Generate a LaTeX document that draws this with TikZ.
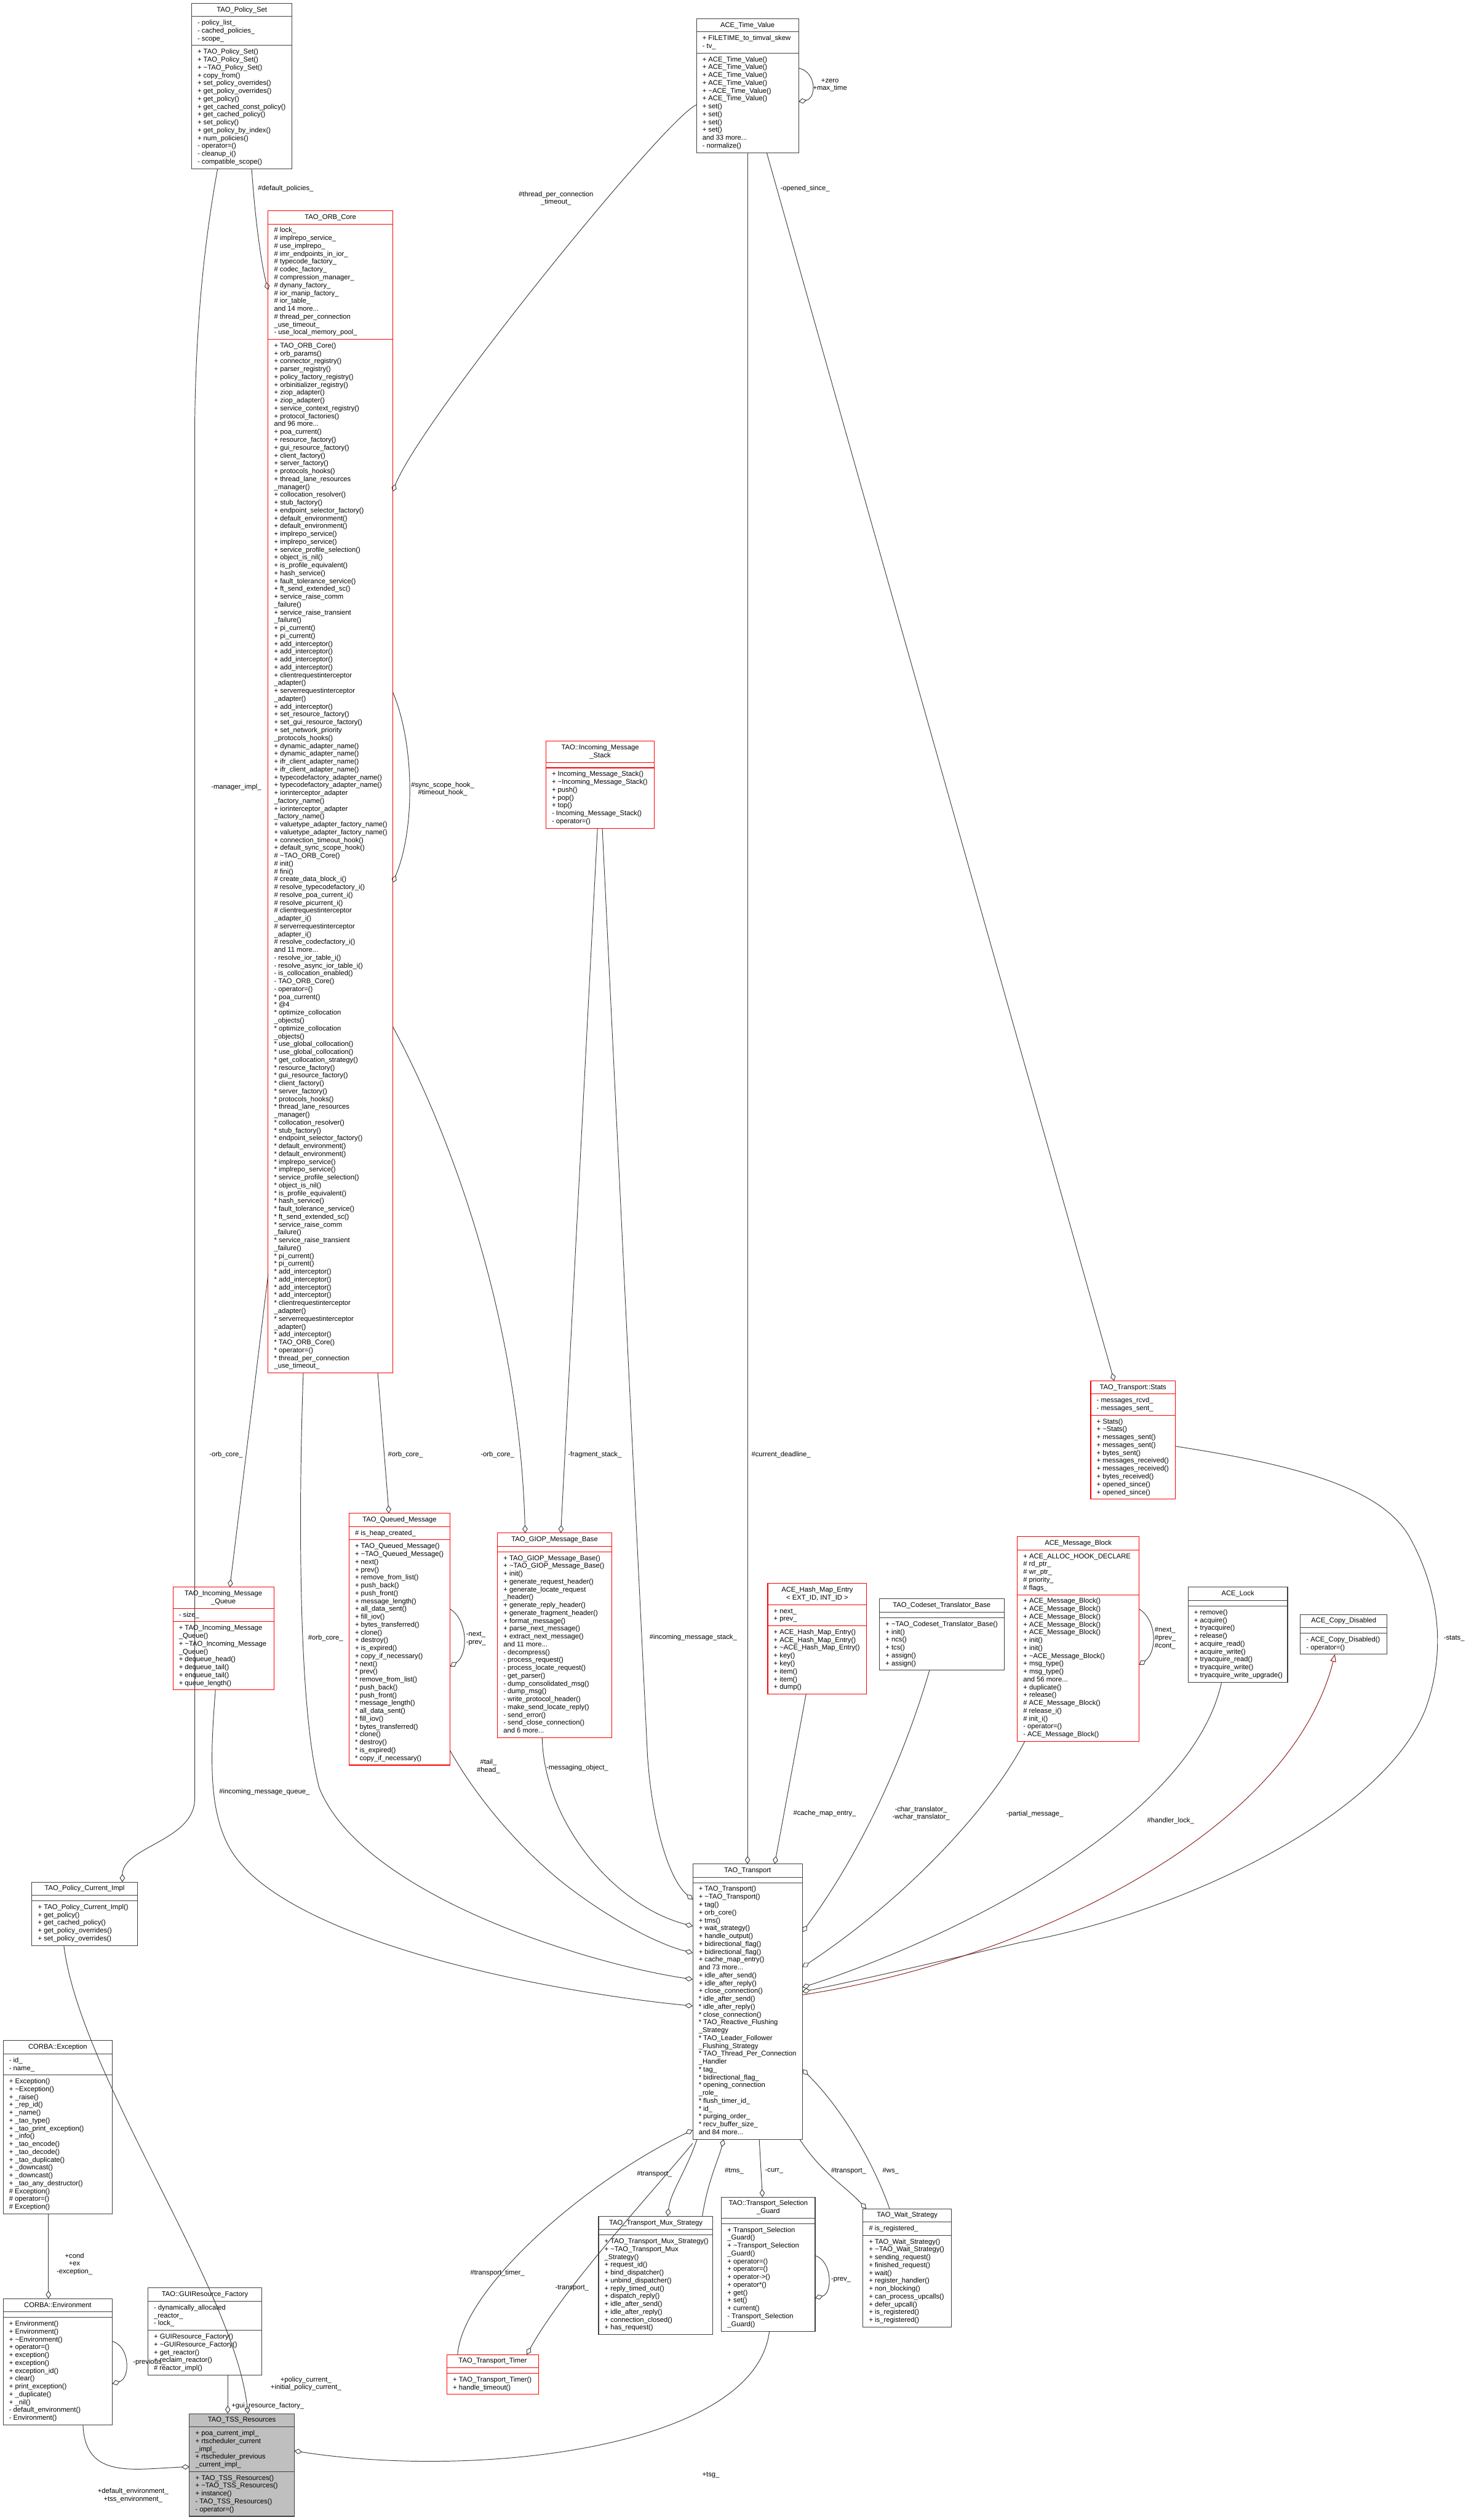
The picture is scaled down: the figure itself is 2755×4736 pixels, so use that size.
\documentclass[tikz,border=0pt]{standalone}
\usepackage{fontspec}
\setmainfont{Liberation Sans}
\usetikzlibrary{arrows.meta}
\definecolor{inhcol}{HTML}{8B1A1A}
\definecolor{edgecol}{HTML}{404040}
\definecolor{boxred}{HTML}{FF0000}
\newcommand\cfont{\fontsize{13}{14.75}\selectfont}
\newsavebox\cbT \newsavebox\cbA \newsavebox\cbM
\newlength\cbhT \newlength\cbhA \newlength\cbhM
\tikzset{
 box/.style={draw=edgecol, line width=1.2pt, inner sep=0pt, outer sep=0pt, fill=white},
 redb/.style={draw=boxred},
 blkb/.style={draw=edgecol},
 grayb/.style={draw=edgecol, fill=black!25},
 sepl/.style={line width=1.2pt},
 edge/.style={draw=edgecol, line width=1.1pt},
 dia/.style={-{Diamond[open,length=15pt,width=10pt]}},
 inh/.style={draw=inhcol, line width=1.1pt, -{Triangle[open,length=14pt,width=11pt]}},
 lbl/.style={font=\cfont, inner sep=0pt, align=center},
 txt/.style={inner sep=0pt, font=\cfont},
}
\newcommand\umlbox[8]{%
  \sbox\cbT{\normalfont\cfont\begin{tabular}[t]{@{}c@{}}#6\end{tabular}}%
  \sbox\cbA{\normalfont\cfont\begin{tabular}[t]{@{}l@{}}#7\end{tabular}}%
  \sbox\cbM{\normalfont\cfont\begin{tabular}[t]{@{}l@{}}#8\end{tabular}}%
  \setlength\cbhT{\dimexpr\ht\cbT+\dp\cbT+10.25pt\relax}%
  \setlength\cbhA{\dimexpr\ht\cbA+\dp\cbA+10.25pt\relax}%
  \setlength\cbhM{\dimexpr\ht\cbM+\dp\cbM+10.25pt\relax}%
  \node[box,#5,anchor=north west,minimum width=#4pt,minimum height=\cbhT+\cbhA+\cbhM] (#1) at (#2,-#3) {};%
  \draw[sepl,#5] (#2,-#3-\cbhT) -- ++(#4,0);%
  \draw[sepl,#5] (#2,-#3-\cbhT-\cbhA) -- ++(#4,0);%
  \node[txt,anchor=base] (#1-t) at (#2+#4/2,-#3-16) {\begin{tabular}[t]{@{}c@{}}#6\end{tabular}};%
  \node[txt,anchor=base west] (#1-a) at (#2+11,-#3-\cbhT-16) {\begin{tabular}[t]{@{}l@{}}#7\end{tabular}};%
  \node[txt,anchor=base west] (#1-m) at (#2+11,-#3-\cbhT-\cbhA-16) {\begin{tabular}[t]{@{}l@{}}#8\end{tabular}};%
}
\begin{document}
\catcode`\_=12 \catcode`\~=12 \catcode`\#=12
\begin{tikzpicture}[x=1pt,y=1pt]
\fill[white] (0,0) rectangle (2755,-4736);
\useasboundingbox (0,0) rectangle (2755,-4736);

\umlbox{ps}{360}{6}{189}{blkb}{TAO_Policy_Set}{- policy_list_\\- cached_policies_\\- scope_}{+ TAO_Policy_Set()\\+ TAO_Policy_Set()\\+ ~TAO_Policy_Set()\\+ copy_from()\\+ set_policy_overrides()\\+ get_policy_overrides()\\+ get_policy()\\+ get_cached_const_policy()\\+ get_cached_policy()\\+ set_policy()\\+ get_policy_by_index()\\+ num_policies()\\- operator=()\\- cleanup_i()\\- compatible_scope()}

\umlbox{tv}{1309}{35}{192}{blkb}{ACE_Time_Value}{+ FILETIME_to_timval_skew\\- tv_}{+ ACE_Time_Value()\\+ ACE_Time_Value()\\+ ACE_Time_Value()\\+ ACE_Time_Value()\\+ ~ACE_Time_Value()\\+ ACE_Time_Value()\\+ set()\\+ set()\\+ set()\\+ set()\\and 33 more...\\- normalize()}

\umlbox{orb}{504}{396}{234}{redb}{TAO_ORB_Core}{# lock_\\# implrepo_service_\\# use_implrepo_\\# imr_endpoints_in_ior_\\# typecode_factory_\\# codec_factory_\\# compression_manager_\\# dynany_factory_\\# ior_manip_factory_\\# ior_table_\\and 14 more...\\# thread_per_connection\\_use_timeout_\\- use_local_memory_pool_}{+ TAO_ORB_Core()\\+ orb_params()\\+ connector_registry()\\+ parser_registry()\\+ policy_factory_registry()\\+ orbinitializer_registry()\\+ ziop_adapter()\\+ ziop_adapter()\\+ service_context_registry()\\+ protocol_factories()\\and 96 more...\\+ poa_current()\\+ resource_factory()\\+ gui_resource_factory()\\+ client_factory()\\+ server_factory()\\+ protocols_hooks()\\+ thread_lane_resources\\_manager()\\+ collocation_resolver()\\+ stub_factory()\\+ endpoint_selector_factory()\\+ default_environment()\\+ default_environment()\\+ implrepo_service()\\+ implrepo_service()\\+ service_profile_selection()\\+ object_is_nil()\\+ is_profile_equivalent()\\+ hash_service()\\+ fault_tolerance_service()\\+ ft_send_extended_sc()\\+ service_raise_comm\\_failure()\\+ service_raise_transient\\_failure()\\+ pi_current()\\+ pi_current()\\+ add_interceptor()\\+ add_interceptor()\\+ add_interceptor()\\+ add_interceptor()\\+ clientrequestinterceptor\\_adapter()\\+ serverrequestinterceptor\\_adapter()\\+ add_interceptor()\\+ set_resource_factory()\\+ set_gui_resource_factory()\\+ set_network_priority\\_protocols_hooks()\\+ dynamic_adapter_name()\\+ dynamic_adapter_name()\\+ ifr_client_adapter_name()\\+ ifr_client_adapter_name()\\+ typecodefactory_adapter_name()\\+ typecodefactory_adapter_name()\\+ iorinterceptor_adapter\\_factory_name()\\+ iorinterceptor_adapter\\_factory_name()\\+ valuetype_adapter_factory_name()\\+ valuetype_adapter_factory_name()\\+ connection_timeout_hook()\\+ default_sync_scope_hook()\\# ~TAO_ORB_Core()\\# init()\\# fini()\\# create_data_block_i()\\# resolve_typecodefactory_i()\\# resolve_poa_current_i()\\# resolve_picurrent_i()\\# clientrequestinterceptor\\_adapter_i()\\# serverrequestinterceptor\\_adapter_i()\\# resolve_codecfactory_i()\\and 11 more...\\- resolve_ior_table_i()\\- resolve_async_ior_table_i()\\- is_collocation_enabled()\\- TAO_ORB_Core()\\- operator=()\\{}* poa_current()\\{}* @4\\{}* optimize_collocation\\_objects()\\{}* optimize_collocation\\_objects()\\{}* use_global_collocation()\\{}* use_global_collocation()\\{}* get_collocation_strategy()\\{}* resource_factory()\\{}* gui_resource_factory()\\{}* client_factory()\\{}* server_factory()\\{}* protocols_hooks()\\{}* thread_lane_resources\\_manager()\\{}* collocation_resolver()\\{}* stub_factory()\\{}* endpoint_selector_factory()\\{}* default_environment()\\{}* default_environment()\\{}* implrepo_service()\\{}* implrepo_service()\\{}* service_profile_selection()\\{}* object_is_nil()\\{}* is_profile_equivalent()\\{}* hash_service()\\{}* fault_tolerance_service()\\{}* ft_send_extended_sc()\\{}* service_raise_comm\\_failure()\\{}* service_raise_transient\\_failure()\\{}* pi_current()\\{}* pi_current()\\{}* add_interceptor()\\{}* add_interceptor()\\{}* add_interceptor()\\{}* add_interceptor()\\{}* clientrequestinterceptor\\_adapter()\\{}* serverrequestinterceptor\\_adapter()\\{}* add_interceptor()\\{}* TAO_ORB_Core()\\{}* operator=()\\{}* thread_per_connection\\_use_timeout_}

\umlbox{ims}{1026}{1393}{204}{redb}{TAO::Incoming_Message\\_Stack}{}{+ Incoming_Message_Stack()\\+ ~Incoming_Message_Stack()\\+ push()\\+ pop()\\+ top()\\- Incoming_Message_Stack()\\- operator=()}

\umlbox{imq}{325}{2983}{190}{redb}{TAO_Incoming_Message\\_Queue}{- size_}{+ TAO_Incoming_Message\\_Queue()\\+ ~TAO_Incoming_Message\\_Queue()\\+ dequeue_head()\\+ dequeue_tail()\\+ enqueue_tail()\\+ queue_length()}

\umlbox{qm}{656}{2844}{190}{redb}{TAO_Queued_Message}{# is_heap_created_}{+ TAO_Queued_Message()\\+ ~TAO_Queued_Message()\\+ next()\\+ prev()\\+ remove_from_list()\\+ push_back()\\+ push_front()\\+ message_length()\\+ all_data_sent()\\+ fill_iov()\\+ bytes_transferred()\\+ clone()\\+ destroy()\\+ is_expired()\\+ copy_if_necessary()\\{}* next()\\{}* prev()\\{}* remove_from_list()\\{}* push_back()\\{}* push_front()\\{}* message_length()\\{}* all_data_sent()\\{}* fill_iov()\\{}* bytes_transferred()\\{}* clone()\\{}* destroy()\\{}* is_expired()\\{}* copy_if_necessary()}

\umlbox{giop}{935}{2881}{215}{redb}{TAO_GIOP_Message_Base}{}{+ TAO_GIOP_Message_Base()\\+ ~TAO_GIOP_Message_Base()\\+ init()\\+ generate_request_header()\\+ generate_locate_request\\_header()\\+ generate_reply_header()\\+ generate_fragment_header()\\+ format_message()\\+ parse_next_message()\\+ extract_next_message()\\and 11 more...\\- decompress()\\- process_request()\\- process_locate_request()\\- get_parser()\\- dump_consolidated_msg()\\- dump_msg()\\- write_protocol_header()\\- make_send_locate_reply()\\- send_error()\\- send_close_connection()\\and 6 more...}

\umlbox{hme}{1443}{2976}{186}{redb}{ACE_Hash_Map_Entry\\< EXT_ID, INT_ID >}{+ next_\\+ prev_}{+ ACE_Hash_Map_Entry()\\+ ACE_Hash_Map_Entry()\\+ ~ACE_Hash_Map_Entry()\\+ key()\\+ key()\\+ item()\\+ item()\\+ dump()}

\umlbox{cts}{1653}{3005}{234}{blkb}{TAO_Codeset_Translator_Base}{}{+ ~TAO_Codeset_Translator_Base()\\+ init()\\+ ncs()\\+ tcs()\\+ assign()\\+ assign()}

\umlbox{mb}{1912}{2888}{229}{redb}{ACE_Message_Block}{+ ACE_ALLOC_HOOK_DECLARE\\# rd_ptr_\\# wr_ptr_\\# priority_\\# flags_}{+ ACE_Message_Block()\\+ ACE_Message_Block()\\+ ACE_Message_Block()\\+ ACE_Message_Block()\\+ ACE_Message_Block()\\+ init()\\+ init()\\+ ~ACE_Message_Block()\\+ msg_type()\\+ msg_type()\\and 56 more...\\+ duplicate()\\+ release()\\# ACE_Message_Block()\\# release_i()\\# init_i()\\- operator=()\\- ACE_Message_Block()}

\umlbox{lock}{2233}{2983}{187}{blkb}{ACE_Lock}{}{+ remove()\\+ acquire()\\+ tryacquire()\\+ release()\\+ acquire_read()\\+ acquire_write()\\+ tryacquire_read()\\+ tryacquire_write()\\+ tryacquire_write_upgrade()}

\umlbox{cd}{2444}{3034}{163}{blkb}{ACE_Copy_Disabled}{}{- ACE_Copy_Disabled()\\- operator=()}

\umlbox{st}{2050}{2595}{159}{redb}{TAO_Transport::Stats}{- messages_rcvd_\\- messages_sent_}{+ Stats()\\+ ~Stats()\\+ messages_sent()\\+ messages_sent()\\+ bytes_sent()\\+ messages_received()\\+ messages_received()\\+ bytes_received()\\+ opened_since()\\+ opened_since()}

\umlbox{tr}{1302}{3503}{206}{blkb}{TAO_Transport}{}{+ TAO_Transport()\\+ ~TAO_Transport()\\+ tag()\\+ orb_core()\\+ tms()\\+ wait_strategy()\\+ handle_output()\\+ bidirectional_flag()\\+ bidirectional_flag()\\+ cache_map_entry()\\and 73 more...\\+ idle_after_send()\\+ idle_after_reply()\\+ close_connection()\\{}* idle_after_send()\\{}* idle_after_reply()\\{}* close_connection()\\{}* TAO_Reactive_Flushing\\_Strategy\\{}* TAO_Leader_Follower\\_Flushing_Strategy\\{}* TAO_Thread_Per_Connection\\_Handler\\{}* tag_\\{}* bidirectional_flag_\\{}* opening_connection\\_role_\\{}* flush_timer_id_\\{}* id_\\{}* purging_order_\\{}* recv_buffer_size_\\and 84 more...}

\umlbox{ws}{1622}{4151}{166}{blkb}{TAO_Wait_Strategy}{# is_registered_}{+ TAO_Wait_Strategy()\\+ ~TAO_Wait_Strategy()\\+ sending_request()\\+ finished_request()\\+ wait()\\+ register_handler()\\+ non_blocking()\\+ can_process_upcalls()\\+ defer_upcall()\\+ is_registered()\\+ is_registered()}

\umlbox{tsg}{1356}{4129}{176}{blkb}{TAO::Transport_Selection\\_Guard}{}{+ Transport_Selection\\_Guard()\\+ ~Transport_Selection\\_Guard()\\+ operator=()\\+ operator=()\\+ operator->()\\+ operator*()\\+ get()\\+ set()\\+ current()\\- Transport_Selection\\_Guard()}

\umlbox{mux}{1125}{4165}{215}{blkb}{TAO_Transport_Mux_Strategy}{}{+ TAO_Transport_Mux_Strategy()\\+ ~TAO_Transport_Mux\\_Strategy()\\+ request_id()\\+ bind_dispatcher()\\+ unbind_dispatcher()\\+ reply_timed_out()\\+ dispatch_reply()\\+ idle_after_send()\\+ idle_after_reply()\\+ connection_closed()\\+ has_request()}

\umlbox{tt}{840}{4425}{172}{redb}{TAO_Transport_Timer}{}{+ TAO_Transport_Timer()\\+ handle_timeout()}

\umlbox{pci}{60}{3537}{198}{blkb}{TAO_Policy_Current_Impl}{}{+ TAO_Policy_Current_Impl()\\+ get_policy()\\+ get_cached_policy()\\+ get_policy_overrides()\\+ set_policy_overrides()}

\umlbox{exc}{6}{3835}{205}{blkb}{CORBA::Exception}{- id_\\- name_}{+ Exception()\\+ ~Exception()\\+ _raise()\\+ _rep_id()\\+ _name()\\+ _tao_type()\\+ _tao_print_exception()\\+ _info()\\+ _tao_encode()\\+ _tao_decode()\\+ _tao_duplicate()\\+ _downcast()\\+ _downcast()\\+ _tao_any_destructor()\\# Exception()\\# operator=()\\# Exception()}

\umlbox{env}{6}{4320}{205}{blkb}{CORBA::Environment}{}{+ Environment()\\+ Environment()\\+ ~Environment()\\+ operator=()\\+ exception()\\+ exception()\\+ exception_id()\\+ clear()\\+ print_exception()\\+ _duplicate()\\+ _nil()\\- default_environment()\\- Environment()}

\umlbox{gui}{278}{4300}{214}{blkb}{TAO::GUIResource_Factory}{- dynamically_allocated\\_reactor_\\- lock_}{+ GUIResource_Factory()\\+ ~GUIResource_Factory()\\+ get_reactor()\\+ reclaim_reactor()\\# reactor_impl()}

\umlbox{tss}{356}{4536}{197}{grayb}{TAO_TSS_Resources}{+ poa_current_impl_\\+ rtscheduler_current\\_impl_\\+ rtscheduler_previous\\_current_impl_}{+ TAO_TSS_Resources()\\+ ~TAO_TSS_Resources()\\+ instance()\\- TAO_TSS_Resources()\\- operator=()}

% ---------------- connectors ----------------
\draw[edge,dia] ([xshift=113]ps.south west) .. controls (480,-420) and (492,-500) .. ([yshift=-149]orb.north west);
\node[lbl] (l1) at (537,-355) {#default_policies_};

\draw[edge,dia] ([xshift=49]ps.south west) .. controls (385,-450) and (368,-600) .. (366,-800) -- (366,-3380) .. controls (366,-3460) and (230,-3470) .. ([xshift=170]pci.north west);
\node[lbl] (l2) at (444,-1480) {-manager_impl_};

\draw[edge,dia] ([xshift=60]pci.south west) .. controls (150,-3900) and (440,-4300) .. ([xshift=110]tss.north west);
\node[lbl] (l3) at (575,-4480) {+policy_current_\\+initial_policy_current_};

\draw[edge,dia] ([xshift=85]exc.south west) -- ([xshift=85]env.north west);
\node[lbl] (l4) at (140,-4255) {+cond\\+ex\\-exception_};

\draw[edge,dia] ([yshift=-80]env.north east) .. controls (245,-4410) and (245,-4470) .. ([yshift=-160]env.north east);
\node[lbl,anchor=west] (l5) at (250,-4440) {-previous_};

\draw[edge,dia] ([xshift=150]env.south west) .. controls (160,-4660) and (250,-4640) .. ([yshift=-100]tss.north west);
\node[lbl] (l6) at (250,-4690) {+default_environment_\\+tss_environment_};

\draw[edge,dia] ([xshift=150]gui.south west) -- ([xshift=72]tss.north west);
\node[lbl,anchor=west] (l7) at (435,-4522) {+gui_resource_factory_};

\draw[edge,dia] ([xshift=90]tsg.south west) .. controls (1420,-4600) and (900,-4660) .. ([yshift=-70]tss.north east);
\node[lbl] (l8) at (1336,-4651) {+tsg_};

\draw[edge,dia] ([yshift=-110]tsg.north east) .. controls (1565,-4250) and (1565,-4310) .. ([yshift=-190]tsg.north east);
\node[lbl,anchor=west] (l9) at (1562,-4285) {-prev_};

\draw[edge,dia] ([yshift=-162]tv.north west) .. controls (1250,-222) and (790,-790) .. ([yshift=-528]orb.north east);
\node[lbl] (l10) at (1045,-373) {#thread_per_connection\\_timeout_};

\draw[edge,dia] ([yshift=-904]orb.north east) .. controls (780,-1400) and (780,-1560) .. ([yshift=-1263]orb.north east);
\node[lbl] (l11) at (832,-1483) {#sync_scope_hook_\\#timeout_hook_};

\draw[edge,dia] ([yshift=-1999]orb.north west) -- ([xshift=107]imq.north west);
\node[lbl] (l12) at (425,-2734) {-orb_core_};

\draw[edge,dia] ([xshift=206]orb.south west) -- ([xshift=75]qm.north west);
\node[lbl] (l13) at (762,-2734) {#orb_core_};

\draw[edge,dia] ([yshift=-1533]orb.north east) .. controls (830,-2100) and (975,-2450) .. ([xshift=52]giop.north west);
\node[lbl] (l14) at (935,-2734) {-orb_core_};

\draw[edge,dia] ([xshift=97]ims.south west) -- ([xshift=119]giop.north west);
\node[lbl] (l15) at (1118,-2734) {-fragment_stack_};

\draw[edge,dia] ([xshift=106]ims.south west) -- (1217,-3300) .. controls (1225,-3420) and (1255,-3530) .. ([yshift=-67]tr.north west);
\node[lbl] (l16) at (1303,-3078) {#incoming_message_stack_};

\draw[edge,dia] ([xshift=66]orb.south west) .. controls (562,-2800) and (558,-3200) .. (600,-3360) .. controls (680,-3560) and (1100,-3690) .. ([yshift=-217]tr.north west);
\node[lbl] (l17) at (612,-3078) {#orb_core_};

\draw[edge,dia] ([xshift=80]imq.south west) .. controls (395,-3300) and (392,-3400) .. (430,-3470) .. controls (520,-3640) and (1000,-3740) .. ([yshift=-267]tr.north west);
\node[lbl] (l18) at (497,-3368) {#incoming_message_queue_};

\draw[edge,dia] ([yshift=-446]qm.north east) .. controls (885,-3360) and (960,-3460) .. (1060,-3540) .. controls (1150,-3610) and (1240,-3655) .. ([yshift=-167]tr.north west);
\node[lbl] (l19) at (918,-3320) {#tail_\\#head_};

\draw[edge,dia] ([xshift=84]giop.south west) .. controls (1022,-3420) and (1150,-3580) .. ([yshift=-117]tr.north west);
\node[lbl] (l20) at (1085,-3322) {-messaging_object_};

\draw[edge,dia] ([xshift=96]tv.south west) -- ([xshift=103]tr.north west);
\node[lbl] (l21) at (1468,-2734) {#current_deadline_};

\draw[edge,dia] ([xshift=72]hme.south west) -- ([xshift=154]tr.north west);
\node[lbl] (l22) at (1550,-3408) {#cache_map_entry_};

\draw[edge,dia] ([xshift=94]cts.south west) .. controls (1700,-3300) and (1620,-3480) .. ([yshift=-128]tr.north east);
\node[lbl] (l23) at (1731,-3408) {-char_translator_\\-wchar_translator_};

\draw[edge,dia] ([xshift=14]mb.south west) .. controls (1860,-3400) and (1700,-3570) .. ([yshift=-194]tr.north east);
\node[lbl] (l24) at (1945,-3409) {-partial_message_};

\draw[edge,dia] ([xshift=63]lock.south west) .. controls (2240,-3420) and (1800,-3640) .. ([yshift=-232]tr.north east);
\node[lbl] (l25) at (2200,-3422) {#handler_lock_};

\draw[edge,dia] ([yshift=-123]st.north east) .. controls (2450,-2755) and (2600,-2800) .. (2650,-2890) .. controls (2710,-3000) and (2715,-3110) .. (2680,-3210) .. controls (2600,-3420) and (2200,-3600) .. (1920,-3650) .. controls (1750,-3690) and (1600,-3725) .. ([yshift=-240]tr.north east);
\node[lbl] (l26) at (2733,-3079) {-stats_};

\draw[inh] ([yshift=-246]tr.north east) .. controls (1900,-3690) and (2420,-3460) .. ([xshift=65]cd.south west);

\draw[edge,dia] ([xshift=132]tv.south west) -- ([xshift=44]st.north west);
\node[lbl] (l28) at (1513,-354) {-opened_since_};

\draw[edge,dia] ([yshift=-180]qm.north east) .. controls (880,-3045) and (880,-3110) .. ([yshift=-288]qm.north east);
\node[lbl,align=left,anchor=west] (l29) at (876,-3080) {-next_\\-prev_};

\draw[edge,dia] ([yshift=-136]mb.north east) .. controls (2175,-3045) and (2175,-3105) .. ([yshift=-241]mb.north east);
\node[lbl,align=left,anchor=west] (l30) at (2170,-3079) {#next_\\#prev_\\#cont_};

\draw[edge,dia] ([yshift=-93]tv.north east) .. controls (1535,-135) and (1535,-185) .. ([yshift=-156]tv.north east);
\node[lbl] (l31) at (1560,-160) {+zero\\+max_time};

\draw[edge,dia] ([xshift=195]mux.north west) .. controls (1330,-4100) and (1350,-4060) .. ([xshift=58]tr.south west);
\node[lbl] (l32) at (1380,-4080) {#tms_};

\draw[edge,dia] ([xshift=8]tr.south west) .. controls (1290,-4080) and (1260,-4120) .. ([xshift=130]mux.north west);
\node[lbl] (l33) at (1230,-4086) {#transport_};

\draw[edge,dia] ([xshift=125]tr.south west) -- ([xshift=77]tsg.north west);
\node[lbl] (l34) at (1455,-4080) {-curr_};

\draw[edge,dia] ([xshift=201]tr.south west) .. controls (1545,-4085) and (1585,-4105) .. ([xshift=6]ws.north west);
\node[lbl] (l35) at (1595,-4080) {#transport_};

\draw[edge,dia] ([xshift=50]ws.north west) .. controls (1640,-4060) and (1580,-3960) .. ([yshift=-386]tr.north east);
\node[lbl] (l36) at (1674,-4080) {#ws_};

\draw[edge,dia] ([xshift=20]tt.north west) .. controls (870,-4300) and (1100,-4100) .. ([yshift=-500]tr.north west);
\node[lbl] (l37) at (935,-4272) {#transport_timer_};

\draw[edge,dia] ([yshift=-525]tr.north west) .. controls (1200,-4150) and (1060,-4300) .. ([xshift=150]tt.north west);
\node[lbl] (l38) at (1075,-4300) {-transport_};

\end{tikzpicture}
\end{document}
